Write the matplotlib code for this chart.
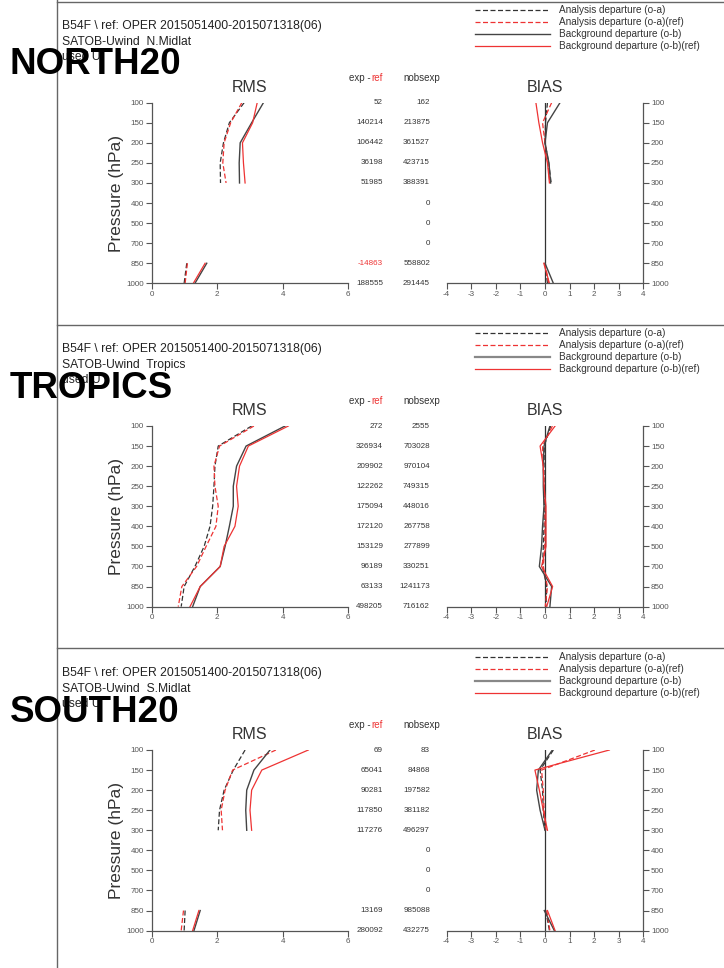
import numpy as np
import matplotlib
matplotlib.use("Agg")
import matplotlib.pyplot as plt
import matplotlib.transforms as mtransforms
from matplotlib.lines import Line2D

nan = np.nan
levels = [100, 150, 200, 250, 300, 400, 500, 700, 850, 1000]
regions = ["NORTH20", "TROPICS", "SOUTH20"]
areas = ["N.Midlat", "Tropics", "S.Midlat"]

# RMS: o-a exp, o-a ref, o-b exp, o-b ref
rms_oa = [
    [2.82, 2.37, 2.19, 2.09, 2.10, nan, nan, nan, 1.07, 0.99],
    [3.05, 2.03, 1.93, 1.90, 1.86, 1.78, 1.60, 1.32, 0.99, 0.90],
    [2.85, 2.49, 2.21, 2.07, 2.03, nan, nan, nan, 1.02, 0.99],
]
rms_oa_ref = [
    [2.75, 2.41, 2.21, 2.17, 2.27, nan, nan, nan, 1.09, 1.02],
    [3.12, 2.07, 1.90, 1.93, 2.03, 1.96, 1.66, 1.37, 0.92, 0.81],
    [3.79, 2.47, 2.24, 2.12, 2.16, nan, nan, nan, 0.97, 0.90],
]
rms_ob = [
    [3.41, 3.05, 2.70, 2.67, 2.68, nan, nan, nan, 1.68, 1.32],
    [4.07, 2.88, 2.59, 2.49, 2.49, 2.37, 2.24, 2.09, 1.48, 1.25],
    [3.61, 3.12, 2.90, 2.87, 2.90, nan, nan, nan, 1.48, 1.29],
]
rms_ob_ref = [
    [3.22, 3.08, 2.77, 2.80, 2.85, nan, nan, nan, 1.63, 1.27],
    [4.17, 2.95, 2.68, 2.59, 2.64, 2.54, 2.21, 2.09, 1.48, 1.17],
    [4.78, 3.36, 3.05, 3.00, 3.05, nan, nan, nan, 1.44, 1.25],
]

# BIAS
bias_oa = [
    [0.10, 0.02, 0.00, 0.15, 0.25, nan, nan, nan, 0.00, 0.10],
    [0.23, -0.03, -0.04, -0.04, -0.03, -0.04, -0.07, -0.10, 0.07, 0.04],
    [0.34, -0.20, -0.10, -0.07, 0.00, nan, nan, nan, 0.03, 0.18],
]
bias_oa_ref = [
    [0.27, -0.10, 0.00, 0.12, 0.20, nan, nan, nan, 0.00, 0.15],
    [0.30, -0.10, -0.07, -0.04, 0.00, 0.00, -0.01, -0.07, 0.10, 0.01],
    [2.03, -0.14, -0.07, -0.04, 0.04, nan, nan, nan, 0.07, 0.20],
]
bias_ob = [
    [0.61, 0.10, 0.00, 0.16, 0.23, nan, nan, nan, 0.00, 0.34],
    [0.20, -0.04, -0.07, -0.07, -0.04, -0.10, -0.14, -0.23, 0.27, 0.20],
    [0.30, -0.27, -0.34, -0.20, 0.00, nan, nan, nan, -0.03, 0.38],
]
bias_ob_ref = [
    [-0.37, -0.25, -0.10, 0.10, 0.18, nan, nan, nan, -0.05, 0.18],
    [0.41, -0.20, -0.07, -0.04, 0.04, 0.04, 0.04, -0.14, 0.31, 0.07],
    [2.62, -0.41, -0.23, -0.07, 0.10, nan, nan, nan, 0.10, 0.41],
]

exp_ref = [
    ["52", "140214", "106442", "36198", "51985", "", "", "", "-14863", "188555"],
    ["272", "326934", "209902", "122262", "175094", "172120", "153129", "96189", "63133", "498205"],
    ["69", "65041", "90281", "117850", "117276", "", "", "", "13169", "280092"],
]
nobsexp = [
    ["162", "213875", "361527", "423715", "388391", "0", "0", "0", "558802", "291445"],
    ["2555", "703028", "970104", "749315", "448016", "267758", "277899", "330251", "1241173", "716162"],
    ["83", "84868", "197582", "381182", "496297", "0", "0", "0", "985088", "432275"],
]

legend_labels = ["Analysis departure (o-a)", "Analysis departure (o-a)(ref)",
                 "Background departure (o-b)", "Background departure (o-b)(ref)"]

W, H = 724, 968
BLACK = "#333333"
RED = "#ee3333"
GRAY = "#555555"
styles = [dict(color=BLACK, ls=(0, (4, 2)), lw=0.9),
          dict(color=RED, ls=(0, (4, 2)), lw=0.9),
          dict(color="#444444", ls="-", lw=1.0),
          dict(color=RED, ls="-", lw=0.9)]

plt.rcParams["font.family"] = ["Liberation Sans", "DejaVu Sans"]
plt.rcParams["axes.unicode_minus"] = False
fig = plt.figure(figsize=(W / 100, H / 100), dpi=100)


def fx(px):
    return px / W


def fy(py):
    return 1 - py / H


# frame lines
fig.add_artist(Line2D([fx(57), fx(57)], [0, 1], color="#666666", lw=1.0))
for py in [2, 325, 648]:
    fig.add_artist(Line2D([fx(57), 1], [fy(py), fy(py)], color="#666666", lw=1.0))

y_idx = np.arange(len(levels))


def style_axis(ax):
    ax.set_ylim(len(levels) - 1, 0)
    ax.set_yticks(y_idx)
    ax.set_yticklabels([str(l) for l in levels])
    ax.tick_params(direction="out", length=4, width=0.8, colors=GRAY, labelsize=5.8, pad=1.5)
    for s in ax.spines.values():
        s.set_color(GRAY)
        s.set_linewidth(0.9)
    ax.patch.set_alpha(0)


for p in range(3):
    off = [0, 323.3, 647.3][p]
    top, bot = 102.7 + off, 283.3 + off

    # header texts
    fig.text(fx(62), fy(26 + off), "B54F \\ ref: OPER 2015051400-2015071318(06)",
             fontsize=8.7, color="#222222", va="center")
    fig.text(fx(62), fy(42 + off), "SATOB-Uwind  " + areas[p], fontsize=8.7, color="#222222", va="center")
    fig.text(fx(62), fy(57 + off), "used U", fontsize=8.7, color="#222222", va="center")
    fig.text(fx(10), fy(65 + off), regions[p], fontsize=26.5, fontweight="bold",
             va="center", color="black")

    # legend
    for k in range(4):
        ly = fy(10 + off + 12 * k)
        st = dict(styles[k])
        if k == 2 and p > 0:
            st.update(color="#888888", lw=1.6)
        fig.add_artist(Line2D([fx(475), fx(550)], [ly, ly], **st))
        fig.text(fx(559), ly, legend_labels[k], fontsize=7.2, color="#333333", va="center")

    # RMS axes
    ax = fig.add_axes([fx(151.7), fy(bot), (348.3 - 151.7) / W, (bot - top) / H])
    for k, arr in enumerate([rms_oa, rms_oa_ref, rms_ob, rms_ob_ref]):
        ax.plot(arr[p], y_idx, **styles[k])
    ax.set_xlim(0, 6)
    ax.set_xticks([0, 2, 4, 6])
    style_axis(ax)
    ax.spines["top"].set_visible(False)
    ax.spines["right"].set_visible(False)
    ax.set_ylabel("Pressure (hPa)", fontsize=12.5, color="#333333", labelpad=2)
    ax.set_title("RMS", fontsize=11.5, color="#333333", pad=8)

    # number columns
    tr = mtransforms.blended_transform_factory(fig.transFigure, ax.transData)
    for i in range(len(levels)):
        v = exp_ref[p][i]
        col = RED if v.startswith("-") else "#333333"
        fig.text(fx(383), i, v, transform=tr, ha="right", va="center", fontsize=5.8, color=col)
        fig.text(fx(430), i, nobsexp[p][i], transform=tr, ha="right", va="center",
                 fontsize=5.8, color="#333333")
    fig.text(fx(349), fy(78 + off), "exp - ", fontsize=7, color="#333333", va="center")
    fig.text(fx(371), fy(78 + off), "ref", fontsize=7, color=RED, va="center")
    fig.text(fx(403), fy(78 + off), "nobsexp", fontsize=7, color="#333333", va="center")

    # BIAS axes
    bx = fig.add_axes([fx(446.7), fy(bot), (643.3 - 446.7) / W, (bot - top) / H])
    bx.plot([0, 0], [0, len(levels) - 1], color=BLACK, lw=0.9)
    for k, arr in enumerate([bias_oa, bias_oa_ref, bias_ob, bias_ob_ref]):
        bx.plot(arr[p], y_idx, **styles[k])
    bx.set_xlim(-4, 4)
    bx.set_xticks(range(-4, 5))
    style_axis(bx)
    bx.spines["top"].set_visible(False)
    bx.spines["left"].set_visible(False)
    bx.yaxis.tick_right()
    bx.set_title("BIAS", fontsize=11.5, color="#333333", pad=8)

fig.savefig("out.png", dpi=100)
